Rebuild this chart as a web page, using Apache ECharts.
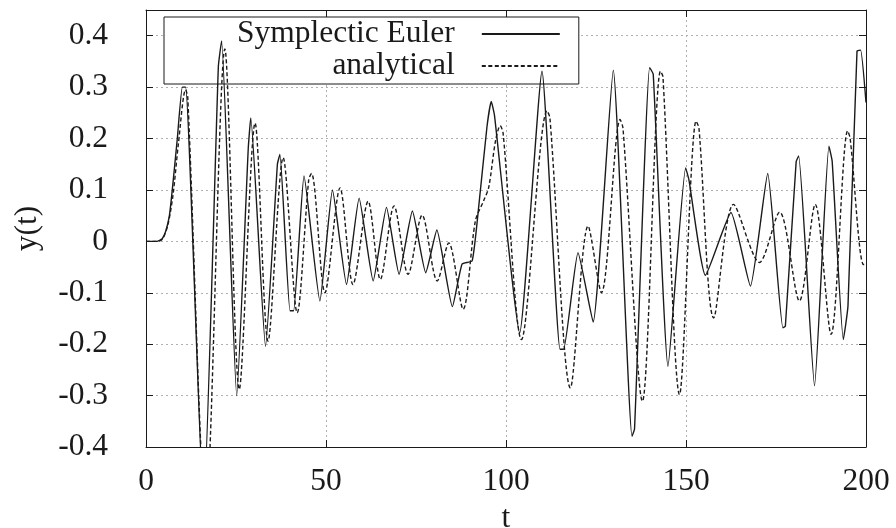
<!DOCTYPE html>
<html>
<head>
<meta charset="utf-8">
<script src="https://cdn.jsdelivr.net/npm/echarts@6.0.0/dist/echarts.min.js"></script>
<style>
  html, body { margin: 0; padding: 0; background: #ffffff; }
  #chart { width: 896px; height: 528px; }
</style>
</head>
<body>
<div id="chart"></div>
<script>
// Symplectic Euler solution y(t)
const eulerT = [0, 3, 4.5, 5.5, 6.5, 7.3, 8.7, 10.1, 11, 16, 20.1, 21, 25.2, 28.4, 29.1, 33.2,
  36.5, 37.2, 40, 41, 43.9, 48.3, 51.8, 55.7, 59.2, 63.1, 66.8, 70.3, 74, 77.7, 80.8, 85.1,
  87.8, 90.6, 92.4, 94.7, 95.9, 96.8, 103.8, 110, 115, 116, 120, 124.2, 129.8, 135, 135.7,
  139.9, 140.9, 145, 149.9, 150.8, 155.4, 162.5, 167.9, 172.7, 176.9, 177.6, 180.6, 181.3,
  185.7, 189.7, 190.6, 193.7, 195, 197.5, 198.5, 200];
const eulerY = [0, 0, 0.005, 0.02, 0.05, 0.10, 0.20, 0.30, 0.30, -0.52, 0.34, 0.39, -0.30, 0.18, 0.24, -0.204,
  0.15, 0.169, -0.135, -0.135, 0.127, -0.116, 0.10, -0.084, 0.084, -0.077, 0.066, -0.064, 0.059, -0.061, 0.022, -0.127,
  -0.044, -0.038, 0.066, 0.222, 0.272, 0.245, -0.178, 0.331, -0.21, -0.21, -0.022, -0.157, 0.333, -0.379, -0.365,
  0.338, 0.325, -0.243, 0.143, 0.12, -0.066, 0.056, -0.087, 0.132, -0.168, -0.165, 0.155, 0.166,
  -0.281, 0.185, 0.156, -0.191, -0.125, 0.37, 0.372, 0.27];

// analytical solution y(t)
const exactT = [0, 3, 4.5, 6, 7.5, 9, 11, 11.6, 16.6, 21.9, 25.9, 30.3, 33.9, 38.1, 42, 45.2,
  46, 49.7, 53.9, 57.5, 61.7, 65.1, 68.9, 72.8, 76.7, 80.9, 84.1, 88.1, 91.5, 93.8, 95.2, 97.1,
  98.4, 99.2, 104.3, 111.4, 112.2, 117.9, 122.8, 126.5, 131.7, 132.5, 137.9, 142.9, 143.6, 148.2,
  152.8, 153.6, 157.7, 163.2, 170.4, 176, 181.5, 185.9, 190.3, 194.9, 195.6, 199.3, 200];
const exactY = [0, 0, 0.004, 0.03, 0.09, 0.19, 0.295, 0.28, -0.52, 0.374, -0.288, 0.23, -0.194, 0.163, -0.139, 0.12,
  0.132, -0.10, 0.104, -0.084, 0.078, -0.074, 0.069, -0.064, 0.051, -0.077, -0.003, -0.132, 0.04, 0.079, 0.105, 0.196,
  0.225, 0.21, -0.191, 0.254, 0.24, -0.285, 0.030, -0.10, 0.237, 0.22, -0.311, 0.331, 0.32, -0.298,
  0.234, 0.22, -0.149, 0.072, -0.041, 0.057, -0.116, 0.072, -0.181, 0.215, 0.2, -0.045, -0.045];

const seriesNames = ['Symplectic Euler', 'analytical'];
const xRange = [0, 200, 50];
const yRange = [-0.4, 0.45, 0.1];

const FONT = 'Liberation Serif';
const FONT_SIZE = 31.5;
const INK = '#1a1a1a';

function pairs(ts, ys) {
  return ts.map(function (t, i) { return [t, ys[i]]; });
}

// full box frame: ticks point inward on all four sides
const frameAxis = {
  axisLine: { show: true, onZero: false, lineStyle: { color: INK, width: 1 } },
  axisTick: { show: true, inside: true, length: 7, lineStyle: { color: INK, width: 1 } }
};
const gridLines = { show: true, lineStyle: { color: '#b0b0b0', width: 1, type: [2, 3] } };

const chart = echarts.init(document.getElementById('chart'), null, { renderer: 'canvas' });

chart.setOption({
  animation: false,
  backgroundColor: '#ffffff',
  grid: { left: 146, right: 30, top: 10, bottom: 81, containLabel: false, outerBoundsMode: 'none' },
  legend: {
    orient: 'vertical',
    left: 164,
    top: 17,
    align: 'right',
    itemWidth: 78,
    itemHeight: 14,
    itemGap: 0,
    padding: [1, 18, 2, 73],
    borderColor: INK,
    borderWidth: 1,
    borderRadius: 0,
    backgroundColor: '#ffffff',
    z: 1,
    selectedMode: false,
    itemStyle: { opacity: 0, borderWidth: 0 },
    textStyle: { fontFamily: FONT, fontSize: FONT_SIZE, color: INK, lineHeight: 29, padding: [0, 22, 0, 0] },
    data: seriesNames
  },
  xAxis: [
    Object.assign({
      type: 'value', min: xRange[0], max: xRange[1], interval: xRange[2],
      position: 'bottom',
      name: 't', nameLocation: 'middle', nameGap: 52,
      nameTextStyle: { fontFamily: FONT, fontSize: FONT_SIZE, color: INK },
      axisLabel: { fontFamily: FONT, fontSize: FONT_SIZE, color: INK, margin: 19 },
      splitLine: gridLines
    }, frameAxis),
    Object.assign({
      type: 'value', min: xRange[0], max: xRange[1], interval: xRange[2],
      position: 'top',
      axisLabel: { show: false },
      splitLine: { show: false }
    }, frameAxis)
  ],
  yAxis: [
    Object.assign({
      type: 'value', min: yRange[0], max: yRange[1], interval: yRange[2],
      position: 'left',
      name: 'y(t)', nameLocation: 'middle', nameGap: 102, nameRotate: 90,
      nameTextStyle: { fontFamily: FONT, fontSize: FONT_SIZE, color: INK },
      axisLabel: { fontFamily: FONT, fontSize: FONT_SIZE, color: INK, margin: 38, showMaxLabel: false },
      splitLine: gridLines
    }, frameAxis),
    Object.assign({
      type: 'value', min: yRange[0], max: yRange[1], interval: yRange[2],
      position: 'right',
      axisLabel: { show: false },
      splitLine: { show: false }
    }, frameAxis)
  ],
  series: [
    {
      name: seriesNames[0],
      type: 'line',
      xAxisIndex: 0, yAxisIndex: 0,
      data: pairs(eulerT, eulerY),
      symbol: 'none', showSymbol: false,
      smooth: 0.15,
      clip: true,
      z: 3,
      lineStyle: { color: INK, width: 1.4, type: 'solid' },
      itemStyle: { color: INK },
      emphasis: { disabled: true }
    },
    {
      name: seriesNames[1],
      type: 'line',
      xAxisIndex: 0, yAxisIndex: 0,
      data: pairs(exactT, exactY),
      symbol: 'none', showSymbol: false,
      smooth: 0.3,
      clip: true,
      z: 3,
      lineStyle: { color: INK, width: 1.4, type: [4, 2.5] },
      itemStyle: { color: INK },
      emphasis: { disabled: true }
    }
  ]
});
</script>
</body>
</html>
